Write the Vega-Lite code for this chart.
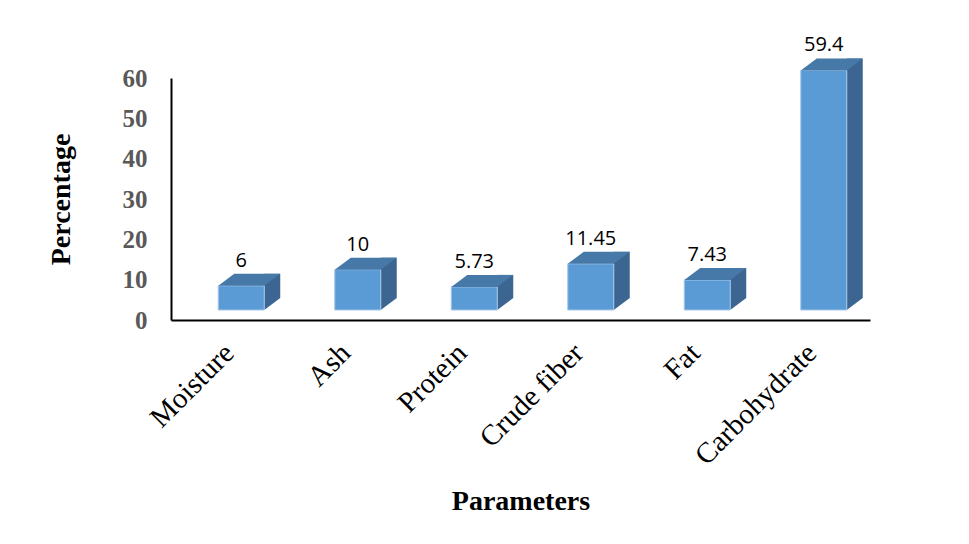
{
  "$schema": "https://vega.github.io/schema/vega-lite/v6.json",
  "autosize": "none",
  "padding": {"left": 171, "top": 78, "right": 99, "bottom": 224},
  "width": 699,
  "height": 242,
  "background": "white",
  "config": {"view": {"stroke": null}},
  "data": {
    "values": [
      {"parameter": "Moisture", "value": 6},
      {"parameter": "Ash", "value": 10},
      {"parameter": "Protein", "value": 5.73},
      {"parameter": "Crude fiber", "value": 11.45},
      {"parameter": "Fat", "value": 7.43},
      {"parameter": "Carbohydrate", "value": 59.4}
    ]
  },
  "encoding": {
    "x": {
      "field": "parameter",
      "type": "nominal",
      "sort": null,
      "scale": {"type": "band", "paddingInner": 0, "paddingOuter": 0},
      "axis": {
        "title": "Parameters",
        "titleFont": "Liberation Serif",
        "titleFontSize": 28,
        "titleFontWeight": "bold",
        "titleColor": "black",
        "titlePadding": 17,
        "labelAngle": -45,
        "labelAlign": "right",
        "labelBaseline": "middle",
        "labelFont": "Liberation Serif",
        "labelFontSize": 29,
        "labelColor": "black",
        "labelPadding": 28,
        "ticks": false,
        "tickSize": 0,
        "domainColor": "black",
        "domainWidth": 2,
        "grid": false
      }
    }
  },
  "layer": [
    {
      "mark": {"type": "bar", "width": 16, "xOffset": 43, "yOffset": -22, "y2Offset": -22, "color": "#3c6691"},
      "encoding": {
        "y": {
          "field": "value",
          "type": "quantitative",
          "scale": {"domain": [0, 60], "nice": false},
          "axis": {
            "title": "Percentage",
            "titleFont": "Liberation Serif",
            "titleFontSize": 28,
            "titleFontWeight": "bold",
            "titleColor": "black",
            "titlePadding": 47,
            "values": [0, 10, 20, 30, 40, 50, 60],
            "labelFont": "Liberation Serif",
            "labelFontSize": 25,
            "labelFontWeight": "bold",
            "labelColor": "#595959",
            "labelPadding": 24,
            "ticks": false,
            "tickSize": 0,
            "domainColor": "black",
            "domainWidth": 2,
            "grid": false
          }
        }
      }
    },
    {
      "mark": {"type": "point", "shape": "M 35 0 L 51 -12 L 35 -12 Z", "size": 4, "filled": true, "opacity": 1, "color": "#3c6691", "yOffset": -10},
      "encoding": {"y": {"datum": 0, "type": "quantitative"}}
    },
    {
      "mark": {"type": "bar", "width": 46, "xOffset": 12, "yOffset": -10, "y2Offset": -10, "color": "#5b9bd5", "stroke": "#a3c7ea", "strokeWidth": 1},
      "encoding": {"y": {"field": "value", "type": "quantitative"}}
    },
    {
      "mark": {"type": "point", "shape": "M -11 0 L 35 0 L 51 -12 L 5 -12 Z", "size": 4, "filled": true, "opacity": 1, "color": "#4678a8", "yOffset": -10},
      "encoding": {"y": {"field": "value", "type": "quantitative"}}
    },
    {
      "mark": {"type": "text", "font": "Open Sans", "fontSize": 20, "color": "black", "align": "center", "baseline": "alphabetic", "dx": 12, "dy": -29},
      "encoding": {
        "y": {"field": "value", "type": "quantitative"},
        "text": {"field": "value", "type": "nominal"}
      }
    }
  ]
}
